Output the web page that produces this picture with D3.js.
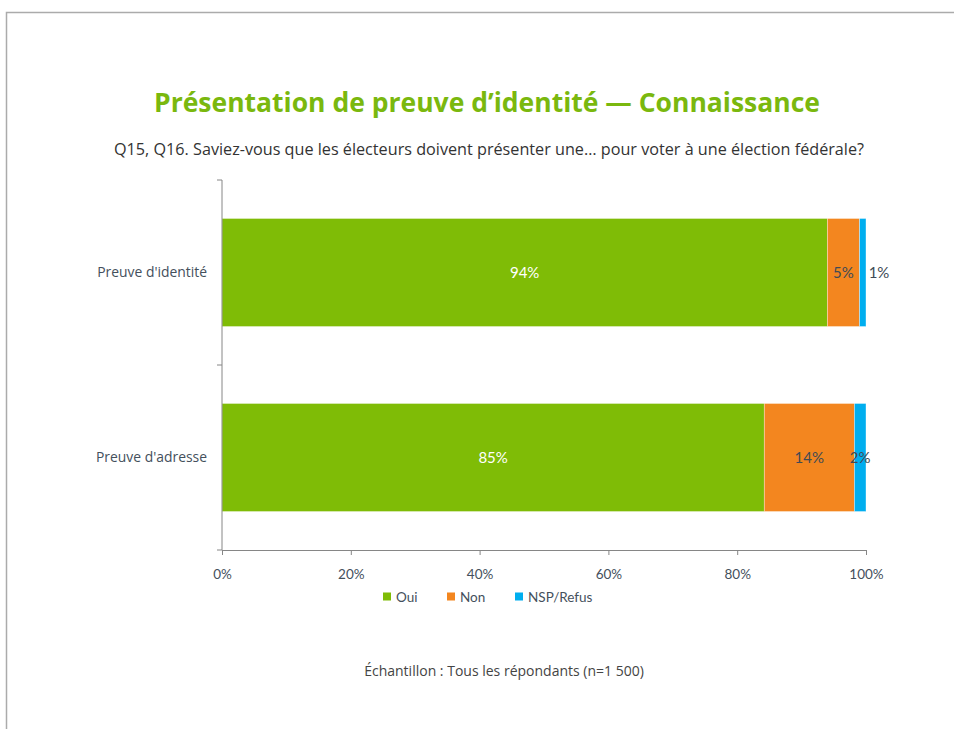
<!DOCTYPE html>
<html><head><meta charset="utf-8">
<script src="https://cdn.jsdelivr.net/npm/d3@7/dist/d3.min.js"></script>
<style>
html,body{margin:0;padding:0;background:#fff;}
svg{display:block;font-family:Lato, "Open Sans", sans-serif;}
.os{font-family:"Open Sans", sans-serif;}
</style></head>
<body>
<svg id="c" width="954" height="729"></svg>
<script>
const categories = ["Preuve d'identité", "Preuve d'adresse"];
const seriesNames = ["Oui", "Non", "NSP/Refus"];
const oui = [94, 84.2];
const non = [5, 14];
const nsp = [1, 1.8];
const ouiLabels = ["94%", "85%"];
const nonLabels = ["5%", "14%"];
const nspLabels = ["1%", "2%"];
const xTicks = [0, 20, 40, 60, 80, 100];
const colors = ["#7fbc06", "#f3861f", "#00aeef"];

const svg = d3.select("#c");
// frame
svg.append("path").attr("d", "M6.5,729 L6.5,12.5 L954,12.5")
  .attr("fill", "none").attr("stroke", "#ababab").attr("stroke-width", 1.5);

svg.append("text").attr("class", "os").attr("x", 487).attr("y", 112).attr("text-anchor", "middle")
  .attr("font-size", 26.5).attr("font-weight", "bold").attr("fill", "#7ab80e")
  .text("Présentation de preuve d’identité — Connaissance");
svg.append("text").attr("class", "os").attr("x", 489).attr("y", 155).attr("text-anchor", "middle")
  .attr("font-size", 16.2).attr("fill", "#333")
  .text("Q15, Q16. Saviez-vous que les électeurs doivent présenter une… pour voter à une élection fédérale?");

const x = d3.scaleLinear().domain([0, 100]).range([222, 866]);
const y = d3.scaleBand().domain(categories).range([180, 550]).paddingInner(0.416).paddingOuter(0.208);

const rows = categories.map((c, i) => ({cat: c, vals: [oui[i], non[i], nsp[i]], labels: [ouiLabels[i], nonLabels[i], nspLabels[i]]}));
const stack = d3.stack().keys([0, 1, 2]).value((d, k) => d.vals[k])(rows);

const g = svg.append("g");
stack.forEach((layer, k) => {
  g.selectAll(null).data(layer).enter().append("rect")
    .attr("x", d => x(d[0])).attr("width", d => x(d[1]) - x(d[0]))
    .attr("y", d => y(d.data.cat)).attr("height", y.bandwidth())
    .attr("fill", colors[k]).attr("stroke", "#fff").attr("stroke-width", 0.6).attr("stroke-opacity", 0.6);
  g.selectAll(null).data(layer).enter().append("text")
    .attr("x", d => {
      const w = x(d[1]) - x(d[0]);
      return w < 8 ? x(d[1]) + 13 : (x(d[0]) + x(d[1])) / 2;
    })
    .attr("y", d => y(d.data.cat) + y.bandwidth() / 2 + 5)
    .attr("text-anchor", "middle").attr("font-size", 15)
    .attr("fill", k === 0 ? "#fff" : "#404a55")
    .text(d => d.data.labels[k]);
});

// y axis
const ya = svg.append("g").attr("transform", "translate(222,0)");
ya.append("line").attr("x1", 0).attr("x2", 0).attr("y1", 180).attr("y2", 550).attr("stroke", "#868686");
const yEdges = [180, y.step() * 1 + 180, 550];
ya.selectAll(null).data(yEdges).enter().append("line")
  .attr("x1", -5).attr("x2", 0).attr("y1", d => d).attr("y2", d => d).attr("stroke", "#868686");
svg.selectAll(null).data(categories).enter().append("text").attr("class", "os")
  .attr("x", 207).attr("y", d => y(d) + y.bandwidth() / 2 + 4.5)
  .attr("text-anchor", "end").attr("font-size", 13.9).attr("fill", "#44505c").text(d => d);

// x axis
const xa = svg.append("g").attr("transform", "translate(0,550)")
  .call(d3.axisBottom(x).tickValues(xTicks).tickSize(5).tickSizeOuter(0).tickFormat(d => d + "%"));
xa.select(".domain").attr("stroke", "#868686");
xa.selectAll(".tick line").attr("stroke", "#868686");
xa.selectAll(".tick text").attr("font-size", 13.5).attr("fill", "#44505c").attr("dy", "1.55em")
  .attr("font-family", "Lato, 'Open Sans', sans-serif");

// legend
const legX = [383, 447, 515];
const leg = svg.selectAll(null).data(seriesNames).enter().append("g")
  .attr("transform", (d, i) => `translate(${legX[i]},597)`);
leg.append("rect").attr("x", 0).attr("y", -4.5).attr("width", 8).attr("height", 8).attr("fill", (d, i) => colors[i]);
leg.append("text").attr("x", 13).attr("y", 4.5).attr("font-size", 13.5).attr("fill", "#44505c").text(d => d);

svg.append("text").attr("class", "os").attr("x", 504).attr("y", 676).attr("text-anchor", "middle")
  .attr("font-size", 14).attr("fill", "#444").text("Échantillon : Tous les répondants (n=1 500)");
</script>
</body></html>
